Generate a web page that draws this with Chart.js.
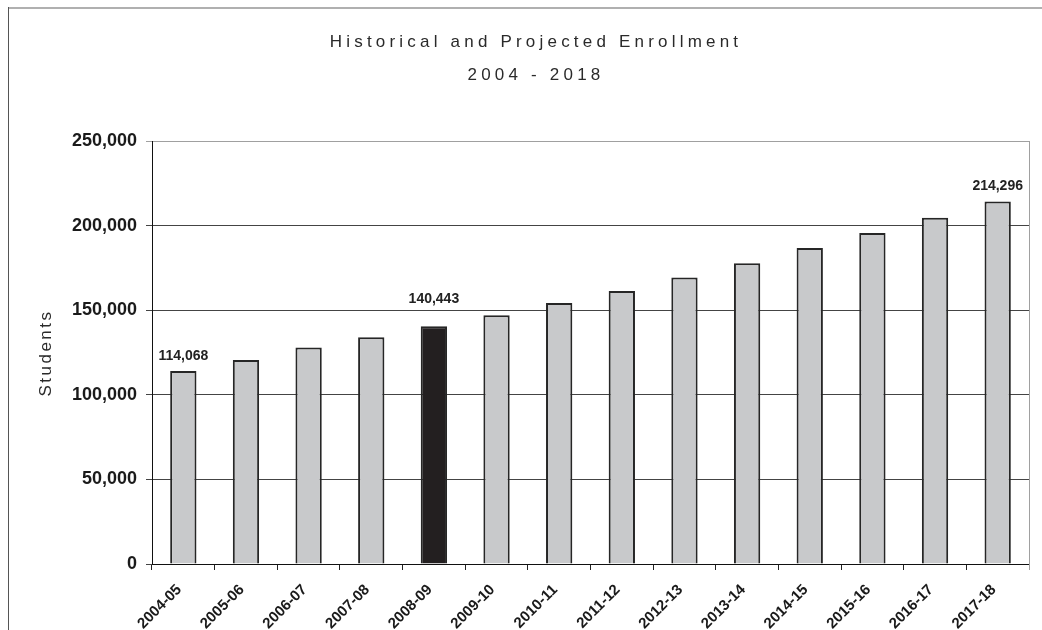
<!DOCTYPE html>
<html lang="en">
<head>
    <meta charset="UTF-8">
    <title>Historical and Projected Enrollment</title>
    <script src="https://cdn.jsdelivr.net/npm/chart.js@4.4.1/dist/chart.umd.min.js"></script>
    <style>
        html, body {
            margin: 0;
            padding: 0;
            background: #fff;
        }
        .chart-container {
            position: relative;
            width: 1042px;
            height: 630px;
        }
    </style>
</head>
<body>
    <div class="chart-container">
        <canvas id="enrollChart"></canvas>
    </div>
    <script>
        // school years on the x axis
        var years = ['2004-05', '2005-06', '2006-07', '2007-08', '2008-09', '2009-10', '2010-11',
                     '2011-12', '2012-13', '2013-14', '2014-15', '2015-16', '2016-17', '2017-18'];
        // total students per year (2008-09 is the current year, later ones are projections)
        var students = [114068, 120500, 128000, 134000, 140443, 147000, 154300,
                        161300, 169400, 177800, 186700, 195600, 204700, 214296];
        var currentYear = '2008-09';
        var labelledYears = ['2004-05', '2008-09', '2017-18'];
        var yTickMax = 250000;
        var yTickStep = 50000;
        var titleLines = ['Historical and Projected Enrollment', '2004 - 2018'];
        var yAxisTitle = 'Students';

        var FONT = "'Liberation Sans', Arial, sans-serif";

        function fmt(n) {
            return n.toLocaleString('en-US');
        }

        // spaced-out title text plus the page frame
        var frameAndTitles = {
            id: 'frameAndTitles',
            beforeDraw: function(chart) {
                var ctx = chart.ctx;
                ctx.save();
                ctx.fillStyle = '#b0b0b0';
                ctx.fillRect(8, 7, chart.width - 8, 2);
                ctx.fillStyle = '#555';
                ctx.fillRect(8, 7, 1, chart.height - 7);
                ctx.restore();
            },
            afterDraw: function(chart) {
                var ctx = chart.ctx;
                ctx.save();
                ctx.fillStyle = '#2a2a2a';
                ctx.textAlign = 'center';
                ctx.textBaseline = 'middle';
                if ('letterSpacing' in ctx) ctx.letterSpacing = '4.2px';
                ctx.font = '17px ' + FONT;
                ctx.fillText(titleLines[0], 536, 42);
                ctx.fillText(titleLines[1], 536, 75);

                if ('letterSpacing' in ctx) ctx.letterSpacing = '2.5px';
                ctx.translate(46, 353);
                ctx.rotate(-Math.PI / 2);
                ctx.fillText(yAxisTitle, 0, 0);
                ctx.restore();
            }
        };

        // right edge of the plot area
        var plotEdge = {
            id: 'plotEdge',
            beforeDatasetsDraw: function(chart) {
                var a = chart.chartArea;
                var ctx = chart.ctx;
                ctx.save();
                ctx.strokeStyle = '#a0a0a0';
                ctx.lineWidth = 1;
                ctx.beginPath();
                ctx.moveTo(a.right + 0.5, a.top);
                ctx.lineTo(a.right + 0.5, a.bottom + 6);
                ctx.stroke();
                ctx.restore();
            }
        };

        // value labels above selected bars
        var valueLabels = {
            id: 'valueLabels',
            afterDatasetsDraw: function(chart, args, opts) {
                var ctx = chart.ctx;
                var meta = chart.getDatasetMeta(0);
                ctx.save();
                ctx.font = 'bold 14px ' + FONT;
                ctx.fillStyle = '#222';
                ctx.textAlign = 'center';
                ctx.textBaseline = 'middle';
                years.forEach(function(y, i) {
                    if (labelledYears.indexOf(y) < 0) return;
                    var bar = meta.data[i];
                    var lift = opts.lift[y] || opts.defaultLift;
                    ctx.fillText(fmt(students[i]), bar.x, bar.y - lift);
                });
                ctx.restore();
            }
        };

        var ctx = document.getElementById('enrollChart').getContext('2d');

        var enrollChart = new Chart(ctx, {
            type: 'bar',
            data: {
                labels: years,
                datasets: [{
                    label: yAxisTitle,
                    data: students,
                    backgroundColor: years.map(function(y) { return y === currentYear ? '#231f20' : '#c8c9cb'; }),
                    borderColor: '#262626',
                    borderWidth: 2,
                    borderSkipped: 'bottom',
                    barPercentage: 0.42,
                    categoryPercentage: 1
                }]
            },
            options: {
                responsive: true,
                maintainAspectRatio: false,
                animation: false,
                layout: { padding: { top: 141, right: 13, left: 0, bottom: 0 } },
                plugins: {
                    legend: { display: false },
                    title: { display: false },
                    tooltip: { enabled: false },
                    valueLabels: { defaultLift: 15, lift: { '2008-09': 27 } }
                },
                scales: {
                    x: {
                        offset: true,
                        grid: {
                            offset: true,
                            drawOnChartArea: false,
                            tickLength: 6,
                            color: '#222'
                        },
                        border: { color: '#111', width: 1 },
                        ticks: {
                            minRotation: 45,
                            maxRotation: 45,
                            autoSkip: false,
                            padding: 11,
                            labelOffset: -4,
                            color: '#1a1a1a',
                            font: { family: FONT, size: 15, weight: 'bold' }
                        },
                        afterFit: function(scale) { scale.height = 66; }
                    },
                    y: {
                        min: 0,
                        max: yTickMax,
                        grid: {
                            tickLength: 6,
                            color: function(c) { return c.tick && c.tick.value === yTickMax ? '#a0a0a0' : '#444'; }
                        },
                        border: { color: '#111', width: 1 },
                        ticks: {
                            stepSize: yTickStep,
                            padding: 9,
                            color: '#1a1a1a',
                            font: { family: FONT, size: 18, weight: 'bold' },
                            callback: function(v) { return fmt(v); }
                        },
                        afterFit: function(scale) { scale.width = 152; }
                    }
                }
            },
            plugins: [frameAndTitles, plotEdge, valueLabels]
        });
    </script>
</body>
</html>
